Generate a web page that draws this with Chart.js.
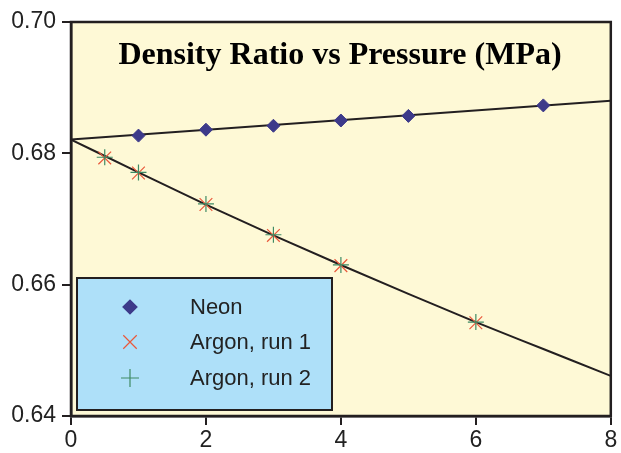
<!DOCTYPE html>
<html>
<head>
<meta charset="utf-8">
<script src="https://cdn.jsdelivr.net/npm/chart.js@4/dist/chart.umd.min.js"></script>
<style>
  html, body { margin: 0; padding: 0; background: #fff; }
  #wrap { width: 621px; height: 453px; }
</style>
</head>
<body>
<div id="wrap"><canvas id="chart" width="621" height="453"></canvas></div>
<script>
// values
const pressureNeon = [1, 2, 3, 4, 5, 7];
const densityNeon = [0.6827, 0.6836, 0.6842, 0.6850, 0.6857, 0.6873];

const pressureArgon = [0.5, 1, 2, 3, 4, 6];
const densityArgon1 = [0.6793, 0.6770, 0.6722, 0.6675, 0.6629, 0.6542];
const densityArgon2 = [0.6794, 0.6771, 0.6723, 0.6676, 0.6630, 0.6543];

// fitted curves as drawn
const fitNeonX = [0, 8];
const fitNeonY = [0.6821, 0.6880];
const fitArgonX = [0, 1, 2, 3, 4, 5, 6, 7, 8];
const fitArgonY = [0.6821, 0.6771, 0.6722, 0.6675, 0.6630, 0.6586, 0.6543, 0.6502, 0.6461];

const xTicks = [0, 2, 4, 6, 8];
const yTicks = [0.64, 0.66, 0.68, 0.70];

const chartTitle = 'Density Ratio vs Pressure (MPa)';

const pts = (xs, ys) => xs.map((x, i) => ({ x: x, y: ys[i] }));

const INK = '#231f20';
const NEON = '#3d3a8a';
const ARGON1 = '#e9583b';
const ARGON2 = '#3f8a64';

const legendItems = [
  { text: 'Neon', style: 'rectRot', color: NEON, radius: 7 },
  { text: 'Argon, run 1', style: 'crossRot', color: ARGON1, radius: 9.5 },
  { text: 'Argon, run 2', style: 'cross', color: ARGON2, radius: 9 }
];

const plotDecor = {
  id: 'plotDecor',
  beforeDraw(chart) {
    const { ctx, chartArea: a } = chart;
    ctx.save();
    ctx.fillStyle = '#fef9d6';
    ctx.fillRect(a.left, a.top, a.right - a.left, a.bottom - a.top);
    ctx.restore();
  },
  afterDraw(chart) {
    const { ctx, chartArea: a } = chart;
    ctx.save();
    // frame
    ctx.strokeStyle = INK;
    ctx.lineWidth = 2.5;
    ctx.strokeRect(a.left, a.top, a.right - a.left, a.bottom - a.top);

    // title inside plot
    ctx.fillStyle = '#000';
    ctx.font = 'bold 32px "Liberation Serif", "Times New Roman", serif';
    ctx.textAlign = 'center';
    ctx.textBaseline = 'alphabetic';
    ctx.fillText(chartTitle, 340, 64);

    // legend box
    const bx = 77, by = 278, bw = 255, bh = 132;
    ctx.fillStyle = '#aee0f9';
    ctx.fillRect(bx, by, bw, bh);
    ctx.strokeStyle = INK;
    ctx.lineWidth = 2;
    ctx.strokeRect(bx, by, bw, bh);

    const rows = [307, 342, 378];
    ctx.font = '22px "Liberation Sans", Arial, sans-serif';
    ctx.textAlign = 'left';
    ctx.textBaseline = 'middle';
    legendItems.forEach((it, i) => {
      ctx.fillStyle = it.color;
      ctx.strokeStyle = it.color;
      ctx.lineWidth = 1.2;
      Chart.helpers.drawPoint(ctx, { pointStyle: it.style, radius: it.radius, rotation: 0, borderWidth: 1.2 }, 130, rows[i]);
      ctx.fillStyle = '#222';
      ctx.fillText(it.text, 190, rows[i] + 1);
    });
    ctx.restore();
  }
};

new Chart(document.getElementById('chart'), {
  type: 'scatter',
  data: {
    datasets: [
      {
        label: 'Neon fit',
        type: 'line',
        data: pts(fitNeonX, fitNeonY),
        borderColor: INK,
        borderWidth: 2,
        pointRadius: 0,
        fill: false,
        order: 3
      },
      {
        label: 'Argon fit',
        type: 'line',
        data: pts(fitArgonX, fitArgonY),
        borderColor: INK,
        borderWidth: 2,
        pointRadius: 0,
        tension: 0.4,
        cubicInterpolationMode: 'monotone',
        fill: false,
        order: 3
      },
      {
        label: 'Neon',
        data: pts(pressureNeon, densityNeon),
        pointStyle: 'rectRot',
        pointRadius: 6.5,
        backgroundColor: NEON,
        borderColor: NEON,
        borderWidth: 1,
        order: 1
      },
      {
        label: 'Argon, run 1',
        data: pts(pressureArgon, densityArgon1),
        pointStyle: 'crossRot',
        pointRadius: 9,
        borderColor: ARGON1,
        borderWidth: 1.2,
        order: 2
      },
      {
        label: 'Argon, run 2',
        data: pts(pressureArgon, densityArgon2),
        pointStyle: 'cross',
        pointRadius: 8,
        borderColor: ARGON2,
        borderWidth: 1.2,
        order: 1
      }
    ]
  },
  options: {
    responsive: false,
    animation: false,
    layout: { padding: { top: 22, right: 8, left: 0, bottom: 0 } },
    plugins: {
      legend: { display: false },
      title: { display: false },
      tooltip: { enabled: false }
    },
    scales: {
      x: {
        type: 'linear',
        min: 0,
        max: 8,
        afterBuildTicks: (s) => { s.ticks = xTicks.map(v => ({ value: v })); },
        afterFit: (s) => { s.height = 37; },
        grid: { drawOnChartArea: false, drawTicks: true, tickLength: 9, color: INK, lineWidth: 2 },
        border: { display: true, color: INK, width: 2.5 },
        ticks: {
          color: '#222',
          padding: 2,
          font: { family: '"Liberation Sans", Arial, sans-serif', size: 23 },
          callback: (v) => String(v)
        }
      },
      y: {
        type: 'linear',
        min: 0.64,
        max: 0.70,
        afterBuildTicks: (s) => { s.ticks = yTicks.map(v => ({ value: v })); },
        afterFit: (s) => { s.width = 71; },
        grid: { drawOnChartArea: false, drawTicks: true, tickLength: 9, color: INK, lineWidth: 2 },
        border: { display: true, color: INK, width: 2.5 },
        ticks: {
          color: '#222',
          padding: 6,
          font: { family: '"Liberation Sans", Arial, sans-serif', size: 23 },
          callback: (v) => v.toFixed(2)
        }
      }
    }
  },
  plugins: [plotDecor]
});
</script>
</body>
</html>
